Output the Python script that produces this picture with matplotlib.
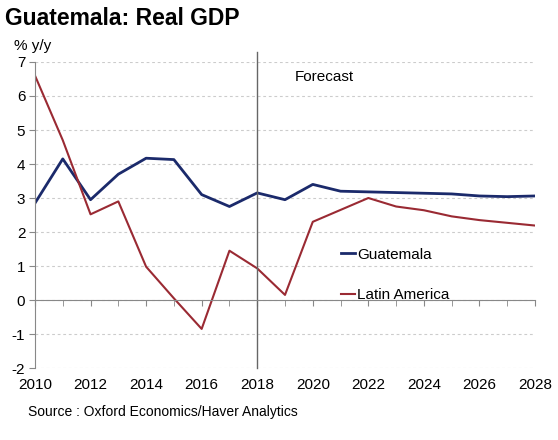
import matplotlib.pyplot as plt
from matplotlib.ticker import MultipleLocator

plt.rcParams['font.family'] = ['Liberation Sans', 'DejaVu Sans']
plt.rcParams['axes.unicode_minus'] = False

years = list(range(2010, 2029))
guatemala = [2.85, 4.15, 2.95, 3.7, 4.17, 4.13, 3.1, 2.75, 3.15, 2.95, 3.4,
             3.2, 3.18, 3.16, 3.14, 3.12, 3.06, 3.04, 3.06]
latam = [6.6, 4.7, 2.52, 2.9, 0.98, 0.05, -0.85, 1.45, 0.93, 0.15, 2.3,
         2.65, 3.0, 2.75, 2.64, 2.46, 2.35, 2.27, 2.19]
forecast_year = 2018

fig = plt.figure(figsize=(5.58, 4.4), dpi=100)
ax = fig.add_axes([0.0627, 0.1636, 0.8961, 0.6955])

navy = '#1b2a6b'
red = '#9a2a33'
ax.plot(years, guatemala, color=navy, lw=2.0, label='Guatemala')
ax.plot(years, latam, color=red, lw=1.5, label='Latin America')

# forecast divider
ax.plot([forecast_year, forecast_year], [-2, 7.3], color='#666666', lw=1.0, clip_on=False)
ax.text(2019.35, 6.55, 'Forecast', ha='left', va='center', fontsize=11)

ax.set_xlim(2010, 2028)
ax.set_ylim(-2, 7)
ax.yaxis.set_major_locator(MultipleLocator(1))
ax.xaxis.set_major_locator(MultipleLocator(2))
ax.xaxis.set_minor_locator(MultipleLocator(1))

for y in range(-2, 8):
    ax.axhline(y, color='#cccccc', lw=0.8, ls=(0, (2.5, 2.5)), zorder=0)

for s in ['top', 'right']:
    ax.spines[s].set_visible(False)
ax.spines['bottom'].set_position(('data', 0))
ax.spines['bottom'].set_color('#888888')
ax.spines['left'].set_color('#888888')
ax.tick_params(axis='x', which='both', direction='out', length=4, color='#888888',
               labelsize=11, pad=52)
ax.tick_params(axis='x', which='minor', labelbottom=False)
ax.tick_params(axis='y', direction='out', length=4, color='#888888', labelsize=11, pad=3)

leg = ax.legend(loc='upper left', bbox_to_anchor=(0.585, 0.438), frameon=False,
                handlelength=0.9, handletextpad=0.15, labelspacing=1.75, fontsize=11)

fig.text(0.009, 0.957, 'Guatemala: Real GDP', fontsize=16.5, fontweight='bold',
         ha='left', va='center')
fig.text(0.025, 0.895, '% y/y', fontsize=11, ha='left', va='center')
fig.text(0.05, 0.063, 'Source : Oxford Economics/Haver Analytics', fontsize=10,
         ha='left', va='center')

fig.savefig('out.png', dpi=100)
